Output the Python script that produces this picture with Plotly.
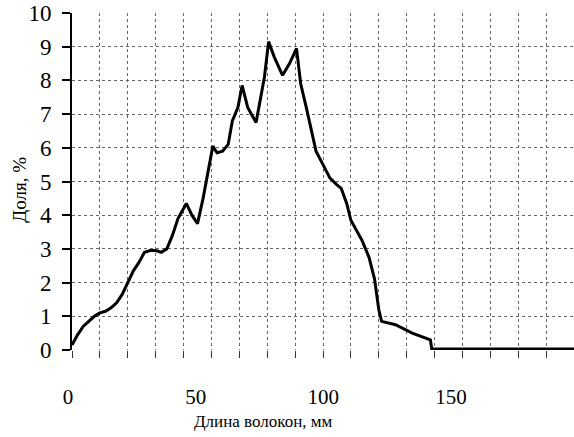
import plotly.graph_objects as go

# fibre length, mm
length_mm = [0, 2, 4, 6, 8, 10, 12, 14, 16, 18, 20, 22, 24, 26, 28, 30, 32, 34, 36, 38,
             40, 41, 43, 45, 47, 49, 50.5, 52, 54, 56, 57.5, 59.5, 61, 63, 66, 67, 69,
             70.5, 72.5, 75.5, 78, 80.5, 82, 84, 86, 87.5, 90, 92.5, 95, 96.5, 98.5, 100,
             102, 104, 106.5, 108.5, 110, 111, 116, 122, 128.5, 129, 180]
# share, %
share_pct = [0.15, 0.45, 0.7, 0.85, 1.0, 1.1, 1.15, 1.25, 1.4, 1.65, 2.0, 2.35, 2.6, 2.9,
             2.95, 2.95, 2.9, 3.0, 3.4, 3.9, 4.2, 4.35, 4.0, 3.75, 4.5, 5.4, 6.05, 5.85,
             5.9, 6.1, 6.8, 7.2, 7.85, 7.2, 6.75, 7.2, 8.1, 9.15, 8.7, 8.15, 8.5, 8.95,
             7.9, 7.2, 6.4, 5.9, 5.5, 5.1, 4.9, 4.8, 4.35, 3.85, 3.55, 3.25, 2.75, 2.1,
             1.2, 0.85, 0.75, 0.5, 0.3, 0.03, 0.03]

x_grid = list(range(0, 181, 10))
x_label_vals = [0, 50, 100, 150]
x_label_text = ["0", "50", "100", "150"]
y_ticks = list(range(0, 11))

FONT = "Liberation Serif"

fig = go.Figure()
fig.add_trace(go.Scatter(x=length_mm, y=share_pct, mode="lines",
                         line=dict(color="black", width=3), cliponaxis=False,
                         showlegend=False, hoverinfo="skip"))
# empty trace so the label axis is rendered
fig.add_trace(go.Scatter(x=[], y=[], xaxis="x2", yaxis="y", mode="lines",
                         showlegend=False, hoverinfo="skip"))

fig.update_layout(
    width=574, height=437,
    margin=dict(l=72, r=0, t=13, b=87),
    paper_bgcolor="white", plot_bgcolor="white",
    font=dict(family=FONT, color="black"),
    xaxis=dict(range=[0, 180], tickvals=x_grid, showticklabels=False,
               showgrid=True, gridcolor="#666", griddash="dot", gridwidth=1,
               ticks="outside", ticklen=7, tickcolor="#333", tickwidth=1,
               showline=False, zeroline=False),
    xaxis2=dict(overlaying="x", anchor="y", side="bottom",
                range=[0, 196.6], tickvals=x_label_vals, ticktext=x_label_text,
                showgrid=False, zeroline=False, showline=False, ticks="",
                tickfont=dict(family=FONT, size=21, color="black"),
                ticklabelstandoff=32, ticklabelshift=-4),
    yaxis=dict(range=[0, 10], tickvals=y_ticks,
               showgrid=True, gridcolor="#666", griddash="dot", gridwidth=1,
               ticks="outside", ticklen=8, tickcolor="black", tickwidth=2,
               showline=True, linecolor="black", linewidth=2, zeroline=False,
               tickfont=dict(family=FONT, size=23, color="black"),
               ticklabelstandoff=6),
    annotations=[
        dict(text="Длина волокон, мм", xref="paper", yref="paper",
             x=0.38, y=-0.211, xanchor="center", yanchor="middle",
             showarrow=False, font=dict(family=FONT, size=17, color="black")),
        dict(text="Доля, %", xref="paper", yref="paper",
             x=-0.104, y=0.475, xanchor="center", yanchor="middle",
             textangle=-90, showarrow=False,
             font=dict(family=FONT, size=19, color="black")),
    ],
)

fig.write_html("out.html")
